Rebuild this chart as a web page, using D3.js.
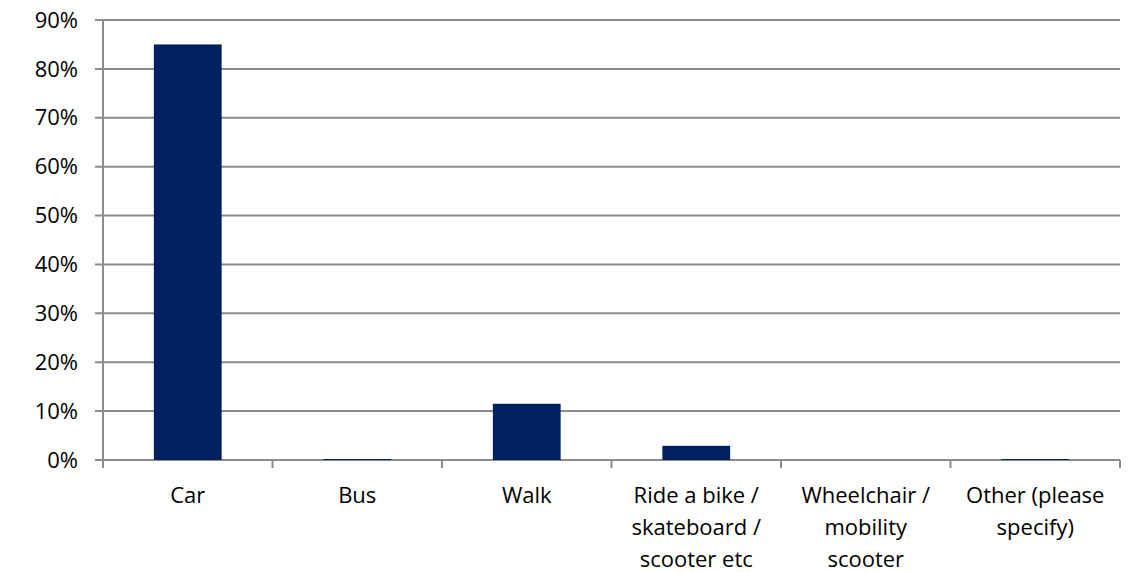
<!DOCTYPE html>
<html><head><meta charset="utf-8">
<script src="https://cdn.jsdelivr.net/npm/d3@7"></script>
<style>body{margin:0;background:#fff}svg{display:block}</style>
</head><body><svg id="c" width="1134" height="572"></svg>
<script>
const categories = [["Car"],["Bus"],["Walk"],["Ride a bike /","skateboard /","scooter etc"],["Wheelchair /","mobility","scooter"],["Other (please","specify)"]];
const values = [0.85, 0.002, 0.115, 0.029, 0, 0.002];
const yTicks = [0,0.1,0.2,0.3,0.4,0.5,0.6,0.7,0.8,0.9];

const svg = d3.select("#c");
const m = {l:103, r:1120, t:20, b:460};
const x = d3.scaleBand().domain(d3.range(categories.length)).range([m.l,m.r]).paddingInner(0.6).paddingOuter(0.3);
const xb = d3.scaleBand().domain(d3.range(categories.length)).range([m.l,m.r]);
const y = d3.scaleLinear().domain([0,0.9]).range([m.b,m.t]);
const font = "'Open Sans', 'Liberation Sans', sans-serif";
const fs = 22;
const grid = "#8c8c8c";

// gridlines
svg.append("g").selectAll("line").data(yTicks).join("line")
  .attr("x1", m.l-8).attr("x2", m.r).attr("y1", d=>y(d)).attr("y2", d=>y(d))
  .attr("stroke", grid).attr("stroke-width", 2);
// y axis line
svg.append("line").attr("x1",m.l).attr("x2",m.l).attr("y1",m.t).attr("y2",m.b+8).attr("stroke",grid).attr("stroke-width",2);
// x tick marks
svg.append("g").selectAll("line").data(d3.range(categories.length+1)).join("line")
  .attr("x1", i=>m.l + i*xb.bandwidth()).attr("x2", i=>m.l + i*xb.bandwidth())
  .attr("y1", m.b).attr("y2", m.b+8).attr("stroke",grid).attr("stroke-width",2);
// y labels
svg.append("g").selectAll("text").data(yTicks).join("text")
  .attr("x", 78).attr("y", d=>y(d)).attr("dy","0.35em").attr("text-anchor","end")
  .attr("font-family",font).attr("font-size",fs).attr("fill","#000")
  .text(d=>d3.format(".0%")(d));
// bars
const cats = d3.range(categories.length);
svg.append("g").selectAll("rect").data(cats).join("rect")
  .attr("x", i=>x(i)).attr("width", x.bandwidth())
  .attr("y", i=>y(values[i])).attr("height", i=>Math.max(0, m.b - y(values[i])))
  .attr("fill","#002060");
// x labels
const xl = svg.append("g").selectAll("text").data(cats).join("text")
  .attr("x", i=>xb(i)+xb.bandwidth()/2).attr("y", 503).attr("text-anchor","middle")
  .attr("font-family",font).attr("font-size",fs).attr("fill","#000");
xl.each(function(i){
  const t = d3.select(this);
  categories[i].forEach((s,k)=>t.append("tspan").attr("x", xb(i)+xb.bandwidth()/2).attr("dy", k?32:0).text(s));
});
</script></body></html>
